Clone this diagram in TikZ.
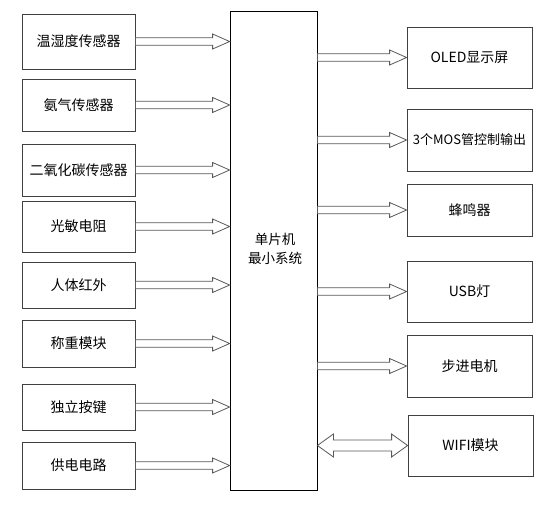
\documentclass[tikz,border=0pt]{standalone}
\usepackage{fontspec}
\setmainfont{Noto Sans CJK SC}
\usetikzlibrary{calc}

\tikzset{
    modbox/.style={draw=black!75, line width=0.8pt, inner sep=0pt, font=\fontsize{14}{16}\selectfont},
    blockline/.style={draw=black!65, fill=white, line width=0.8pt, line join=miter}
}
% hollow block arrow from #1 to #2 (horizontal)
\newcommand{\blockarrow}[2]{%
    \draw[blockline] ($(#1)+(0,-3.8)$) -- ($(#2)+(-17,-3.8)$) -- ($(#2)+(-17,-7.5)$) -- (#2)
        -- ($(#2)+(-17,7.5)$) -- ($(#2)+(-17,3.8)$) -- ($(#1)+(0,3.8)$) -- cycle;}
\newcommand{\duplexarrow}[2]{%
    \draw[blockline] (#1) -- ($(#1)+(16,-11.5)$) -- ($(#1)+(16,-5.5)$) -- ($(#2)+(-16,-5.5)$)
        -- ($(#2)+(-16,-11.5)$) -- (#2) -- ($(#2)+(-16,11.5)$) -- ($(#2)+(-16,5.5)$)
        -- ($(#1)+(16,5.5)$) -- ($(#1)+(16,11.5)$) -- cycle;}

\begin{document}
\begin{tikzpicture}[x=1pt,y=-1pt]
                \useasboundingbox (0,0) rectangle (551,509);
                %mcu
                \node[draw, line width=0.8pt, minimum width=87pt, minimum height=479pt] (mcu) at (273.5,250.5) {};
                \node[align=center, font=\fontsize{13.5}{19}\selectfont] (mculabel) at (275,249) {单片机\\最小系统};
                %inputs
                \foreach \name/\y/\h/\txt in {th/41.5/55/温湿度传感器, nh3/105/52/氨气传感器,
                        co2/170/52/二氧化碳传感器, ldr/226.5/51/光敏电阻, pir/285/46/人体红外,
                        weigh/343.5/47/称重模块, key/407/46/独立按键, power/465.5/47/供电电路}
                {
                    \node[modbox, minimum width=113pt, minimum height=\h pt] (\name) at (78.5,\y) {\txt};
                    \coordinate (\name in) at (mcu.west |- \name.east);
                    \blockarrow{\name.east}{\name in}
                }
                %outputs
                \foreach \name/\y/\h/\txt in {oled/57.5/61/OLED显示屏, mos/140/62/{\fontsize{13}{16}\selectfont 3个MOS管控制输出},
                        buzzer/210/52/蜂鸣器, usb/291.5/61/USB灯, stepper/366/62/步进电机}
                {
                    \node[modbox, minimum width=125pt, minimum height=\h pt] (\name) at (469.5,\y) {\txt};
                    \coordinate (\name out) at (mcu.east |- \name.west);
                    \blockarrow{\name out}{\name.west}
                }
                \node[modbox, minimum width=125pt, minimum height=61pt] (wifi) at (470.5,445.5) {WIFI模块};
                \coordinate (wifi out) at (mcu.east |- wifi.west);
                \duplexarrow{wifi out}{wifi.west}
            \end{tikzpicture}
\end{document}
